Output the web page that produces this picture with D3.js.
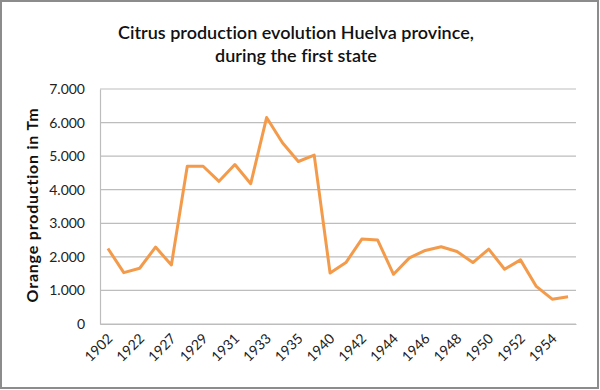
<!DOCTYPE html>
<html>
<head>
<meta charset="utf-8">
<script src="https://cdn.jsdelivr.net/npm/d3@7"></script>
<style>
  body { margin: 0; background: #fff; }
  svg { display: block; font-family: Lato, "Open Sans", sans-serif; font-variant-ligatures: none; }
</style>
</head>
<body>
<div id="area"></div>
<script>
// years on the category axis (only every other one gets a label)
var years = ["1902","1921","1922","1926","1927","1928","1929","1930","1931","1932",
             "1933","1934","1935","1936","1940","1941","1942","1943","1944","1945",
             "1946","1947","1948","1949","1950","1951","1952","1953","1954","1955"];
// orange production (Tm)
var production = [2250,1530,1660,2290,1760,4700,4700,4250,4750,4180,
                  6150,5400,4840,5030,1520,1830,2530,2500,1480,1970,
                  2190,2300,2160,1830,2230,1630,1910,1120,740,810];
var yTicks = [0,1000,2000,3000,4000,5000,6000,7000];

var width = 600, height = 390;
var margin = {top: 89, right: 24, bottom: 66, left: 100};
var innerW = width - margin.left - margin.right,
    innerH = height - margin.top - margin.bottom;

var svg = d3.select('#area').append('svg')
            .attr('width', width)
            .attr('height', height);

// outer frame
svg.append('rect')
   .attr('x', 1).attr('y', 1)
   .attr('width', width - 3).attr('height', height - 3)
   .attr('fill', '#fff')
   .attr('stroke', '#8c8c8c')
   .attr('stroke-width', 2);

var g = svg.append('g')
           .attr('transform', 'translate(' + margin.left + ',' + margin.top + ')');

var x = d3.scaleBand()
          .domain(years)
          .range([0, innerW]);

var y = d3.scaleLinear()
          .domain([0, 7000])
          .range([innerH, 0]);

var fmt = function(d) { return d3.format(',')(d).replace(/,/g, '.'); };

// gridlines
g.append('g')
 .selectAll('line')
 .data(yTicks)
 .enter().append('line')
 .attr('x1', 0).attr('x2', innerW)
 .attr('y1', function(d) { return y(d); })
 .attr('y2', function(d) { return y(d); })
 .attr('stroke', '#bdbdbd')
 .attr('stroke-width', 1.2);

// y axis
var yAxis = d3.axisLeft(y)
              .tickValues(yTicks)
              .tickFormat(fmt)
              .tickSize(0)
              .tickPadding(15);
var ya = g.append('g').call(yAxis);
ya.select('.domain').attr('stroke', '#bdbdbd').attr('stroke-width', 1.2);
ya.selectAll('text').attr('font-size', 14).attr('fill', '#222')
  .attr('font-family', 'Lato, sans-serif');

// x axis
var xAxis = d3.axisBottom(x)
              .tickValues(years.filter(function(d, i) { return i % 2 === 0; }))
              .tickSize(0)
              .tickPadding(0);
var xa = g.append('g')
          .attr('transform', 'translate(0,' + innerH + ')')
          .call(xAxis);
xa.select('.domain').attr('stroke', '#bdbdbd').attr('stroke-width', 1.2);
xa.selectAll('text')
  .attr('font-size', 14).attr('fill', '#222')
  .attr('font-family', 'Lato, sans-serif')
  .attr('text-anchor', 'end')
  .attr('y', 0)
  .attr('dy', '0.35em')
  .attr('transform', 'translate(2,12) rotate(-45)');

// line
var line = d3.line()
             .x(function(d, i) { return x(years[i]) + x.bandwidth() / 2; })
             .y(function(d) { return y(d); });

g.append('path')
 .datum(production)
 .attr('d', line)
 .attr('fill', 'none')
 .attr('stroke', '#f39b4b')
 .attr('stroke-width', 3)
 .attr('stroke-linejoin', 'round');

// title
var title = svg.append('text')
               .attr('text-anchor', 'middle')
               .attr('font-size', 18)
               .attr('font-weight', 600)
               .attr('fill', '#111');
title.append('tspan').attr('x', 296).attr('y', 39)
     .text('Citrus production  evolution Huelva province,');
title.append('tspan').attr('x', 296).attr('y', 62)
     .text('during the first state');

// y axis title
svg.append('text')
   .attr('transform', 'translate(38,' + 205 + ') rotate(-90)')
   .attr('text-anchor', 'middle')
   .attr('font-size', 16)
   .attr('font-weight', 700)
   .attr('letter-spacing', 0.8)
   .attr('fill', '#111')
   .text('Orange production in Tm');
</script>
</body>
</html>
